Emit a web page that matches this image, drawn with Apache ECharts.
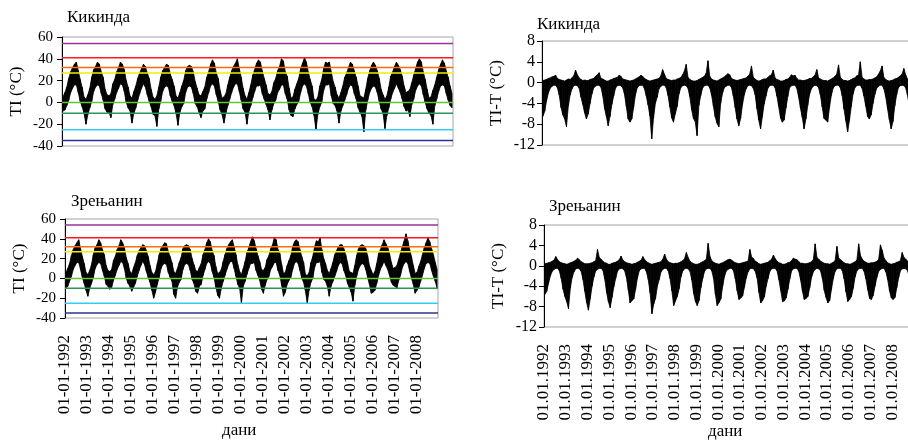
<!DOCTYPE html>
<html><head><meta charset="utf-8">
<script src="https://cdn.jsdelivr.net/npm/echarts@6/dist/echarts.min.js"></script>
<style>html,body{margin:0;padding:0;background:#fff}#c{width:908px;height:441px}</style>
</head><body><div id="c"></div>
<script>
// Years shown (daily series 1992-2008, summarised here as monthly low / high envelopes)
const years = [1992,1993,1994,1995,1996,1997,1998,1999,2000,2001,2002,2003,2004,2005,2006,2007,2008];

// Кикинда, TI (°C): monthly highs and lows, Jan..Dec per year
const kikTIhi = [
  5, 9,14,22,28,32,35,37,29,21,14, 5,
  3, 7,13,23,30,33,37,35,28,23,12, 7,
  6, 8,17,21,28,32,37,35,30,20,14, 6,
  4,10,15,22,27,31,35,33,27,22,12, 5,
  3, 6,14,23,29,32,35,34,26,21,15, 6,
  4, 9,15,20,29,33,34,33,28,19,13, 7,
  6,10,14,23,28,35,39,36,27,22,11, 4,
  5, 8,16,23,29,33,36,40,31,23,13, 6,
  3, 9,16,25,30,36,39,37,29,22,16, 8,
  7,10,18,22,29,33,40,38,28,24,13, 4,
  5,12,17,22,31,36,41,37,28,21,15, 3,
  2, 5,15,21,31,37,36,37,28,19,14, 7,
  4, 9,15,23,27,32,37,35,29,23,15, 6,
  5, 4,12,22,29,34,37,34,29,22,12, 7,
  3, 6,14,24,28,33,37,34,30,24,15, 9,
 10,12,18,25,31,37,40,37,28,21,12, 4,
  5,11,16,23,30,35,39,36,29,23,15, 8
];
const kikTIlo = [
  -8, -7,-3, 2, 9,13,16,16, 9, 1,-4,-10,
 -20,-11,-5, 1,10,14,16,15, 8, 2,-6, -9,
  -9,-14,-2, 3, 9,13,17,16,10, 0,-5, -8,
 -19,-10,-5, 2, 8,13,17,14, 7, 1,-4,-11,
 -12,-22,-6, 1,10,14,15,14, 6, 1,-3,-10,
 -21, -9,-4,-1, 9,14,15,14, 8,-1,-4, -9,
 -14, -8,-6, 3, 9,15,17,15, 7, 1,-7,-11,
 -19,-10,-3, 3, 9,14,17,17,10, 2,-6, -9,
 -20, -8,-3, 4,10,15,15,16, 8, 3,-2, -7,
 -16, -7,-1, 2, 9,12,16,16, 8, 3,-7,-12,
 -13, -6,-2, 1, 9,15,17,15, 8, 0,-4,-12,
 -25,-11,-4, 0,11,16,16,17, 6,-1,-3, -8,
 -19, -8,-3, 2, 7,13,16,15, 8, 3,-5, -9,
 -13,-27,-7, 2, 9,13,15,14, 9, 1,-6,-10,
 -24,-12,-5, 3, 9,13,17,13, 9, 3,-4, -8,
  -7,-13,-2, 3,11,15,17,15, 7, 0,-6,-10,
 -12,-20,-3, 3,10,15,16,15, 8, 2,-3, -5
];

// Зрењанин, TI (°C)
const zreTIhi = [
  6,10,15,23,29,33,36,39,30,22,15, 6,
  4, 8,14,24,31,34,39,36,29,24,13, 8,
  7, 9,18,22,29,33,39,36,31,21,15, 7,
  5,11,16,23,28,31,34,33,28,22,13, 6,
  4, 7,15,24,30,33,36,35,27,22,16, 7,
  5,10,16,21,30,33,34,33,29,20,14, 8,
  7,11,15,24,29,36,40,37,28,23,12, 5,
  6, 9,17,24,30,34,37,39,32,24,14, 7,
  4,10,17,26,31,37,42,38,30,23,17, 9,
  8,11,19,23,30,34,41,39,29,25,14, 5,
  6,13,18,23,32,37,39,37,29,22,16, 4,
  3, 6,16,22,32,38,37,41,29,20,15, 8,
  5,10,16,24,28,32,34,34,30,24,16, 7,
  6, 5,13,23,30,33,34,33,30,23,13, 8,
  4, 7,15,25,29,34,39,35,31,25,16,10,
 11,13,19,26,32,38,45,38,29,22,13, 5,
  6,12,17,24,31,36,41,37,30,24,16, 9
];
const zreTIlo = [
 -10, -8,-3, 2, 9,13,16,16, 9, 1,-5,-12,
 -18,-10,-5, 1,10,14,16,15, 8, 2,-6, -8,
 -11, -9,-2, 3, 9,13,17,16,10, 0,-5, -8,
 -13, -9,-5, 2, 8,13,17,14, 7, 1,-4,-12,
 -20,-14,-6, 1,10,14,15,14, 6, 1,-3,-16,
 -20, -9,-4,-1, 9,14,15,14, 8,-1,-5,-13,
 -15, -8,-6, 3, 9,15,17,15, 7, 1,-9,-17,
 -20,-10,-3, 3, 9,14,17,17,10, 2,-6,-10,
 -25, -8,-3, 4,10,15,15,16, 8, 3,-2,-11,
 -15, -7,-1, 2, 9,12,16,16, 8, 3,-7,-18,
 -14, -6,-2, 1, 9,15,17,15, 8, 0,-4,-13,
 -25,-12,-4, 0,11,16,16,17, 6,-1,-3, -8,
 -18, -8,-3, 2, 7,13,16,15, 8, 3,-5, -9,
 -14,-23,-7, 2, 9,13,15,14, 9, 1,-6,-15,
 -14,-12,-5, 3, 9,13,17,13, 9, 3,-4, -7,
  -8,-10,-2, 3,11,15,17,15, 7, 0,-6,-15,
 -12, -9,-3, 3,10,15,16,15, 8, 2,-3,-10
];

// Кикинда, TI-T (°C)
const kikDiffHi = [
 0.4,0.5,0.6,0.8,0.9,1.1,1.2,1.4,0.8,0.6,0.5,0.4,
 0.3,0.5,0.7,0.6,0.9,1.3,2.4,1.5,0.9,0.6,0.4,0.5,
 0.4,0.4,0.6,0.7,0.8,1.2,1.5,1.9,0.8,0.7,0.5,0.3,
 0.3,0.5,0.6,0.8,0.9,1.0,1.4,1.2,0.7,0.6,0.5,0.4,
 0.3,0.4,0.5,0.7,0.9,1.1,1.4,1.2,0.8,0.6,0.4,0.3,
 0.4,0.5,0.6,0.7,0.8,1.3,2.5,1.6,0.8,0.6,0.5,0.4,
 0.5,0.5,0.7,0.8,1.0,1.5,2.2,3.5,1.0,0.6,0.4,0.3,
 0.3,0.4,0.6,0.8,1.0,1.2,1.8,4.2,1.2,0.7,0.5,0.4,
 0.3,0.5,0.7,0.9,1.1,1.4,1.7,1.5,0.8,0.6,0.5,0.4,
 0.5,0.6,0.7,0.8,0.9,1.2,1.6,3.2,1.0,0.7,0.4,0.3,
 0.4,0.6,0.7,0.7,1.0,1.3,1.5,2.4,0.9,0.6,0.5,0.3,
 0.3,0.4,0.6,0.7,1.0,1.5,1.3,1.4,0.8,0.5,0.5,0.4,
 0.4,0.5,0.6,0.8,0.8,1.1,1.4,2.5,0.9,0.7,0.5,0.4,
 0.4,0.3,0.5,0.7,0.9,1.2,1.6,3.4,1.0,0.6,0.4,0.4,
 0.3,0.4,0.6,0.8,0.9,1.3,1.4,4.0,1.0,0.7,0.5,0.5,
 0.6,0.6,0.7,0.9,1.1,1.6,2.2,3.2,1.0,0.6,0.4,0.3,
 0.4,0.5,0.7,0.8,1.0,1.3,1.6,2.7,1.5,0.7,0.5,0.4
];
const kikDiffLo = [
  -6.5,-5.5,-3.5,-2.0,-1.1,-0.7,-0.5,-0.5,-1.0,-2.4,-4.8,-6.2,
  -7.0,-8.5,-4.5,-2.4,-1.2,-0.6,-0.5,-0.6,-1.1,-2.8,-4.2,-5.8,
  -7.0,-6.0,-4.0,-2.2,-1.0,-0.7,-0.5,-0.5,-0.9,-2.5,-5.0,-6.5,
  -8.3,-6.5,-4.2,-2.6,-1.1,-0.6,-0.5,-0.6,-1.0,-2.3,-4.6,-7.0,
  -7.6,-7.0,-4.8,-2.4,-1.0,-0.6,-0.5,-0.5,-1.2,-2.6,-4.3,-6.4,
 -10.8,-6.8,-4.0,-2.8,-1.2,-0.7,-0.5,-0.5,-1.0,-2.5,-4.7,-6.8,
  -7.6,-6.0,-4.6,-2.2,-1.0,-0.6,-0.5,-0.6,-1.1,-2.7,-5.2,-6.9,
  -7.5,-10.2,-4.4,-2.5,-1.1,-0.6,-0.5,-0.5,-1.0,-2.4,-4.5,-6.6,
  -7.8,-8.5,-4.0,-2.1,-1.0,-0.7,-0.5,-0.5,-1.0,-2.6,-4.8,-7.0,
  -8.3,-6.9,-4.3,-2.4,-1.2,-0.6,-0.5,-0.6,-1.1,-2.3,-5.0,-7.2,
  -8.9,-6.5,-4.1,-2.6,-1.1,-0.6,-0.5,-0.5,-1.0,-2.6,-4.6,-6.8,
  -7.6,-7.2,-4.9,-2.7,-1.0,-0.6,-0.5,-0.5,-1.1,-2.8,-4.9,-6.7,
  -8.9,-7.0,-4.4,-2.3,-1.2,-0.7,-0.5,-0.6,-1.0,-2.4,-4.7,-6.9,
  -7.2,-7.6,-4.8,-2.5,-1.1,-0.6,-0.5,-0.5,-1.0,-2.5,-5.1,-7.3,
  -9.5,-7.3,-4.6,-2.2,-1.0,-0.6,-0.5,-0.5,-1.1,-2.6,-4.5,-6.5,
  -7.0,-6.2,-4.0,-2.3,-1.1,-0.7,-0.5,-0.5,-1.2,-2.7,-5.0,-7.1,
  -8.9,-7.5,-4.5,-2.4,-1.0,-0.6,-0.5,-0.6,-1.0,-2.4,-4.4,-5.8
];

// Зрењанин, TI-T (°C)
const zreDiffHi = [
 0.4,0.5,0.6,0.7,0.9,1.1,1.8,1.2,0.8,0.6,0.5,0.4,
 0.3,0.4,0.6,0.7,0.9,1.1,1.5,1.2,0.8,0.6,0.4,0.4,
 0.4,0.5,0.6,0.8,1.0,3.2,1.6,1.3,0.9,0.6,0.5,0.3,
 0.3,0.5,0.6,0.7,0.9,1.2,1.9,1.1,0.8,0.6,0.5,0.4,
 0.3,0.4,0.5,0.7,0.9,1.1,1.8,1.2,0.8,0.6,0.4,0.3,
 0.4,0.5,0.6,0.7,0.8,1.3,2.3,1.3,0.8,0.6,0.5,0.4,
 0.5,0.5,0.6,0.8,1.0,1.4,2.6,1.6,0.9,0.6,0.4,0.3,
 0.3,0.4,0.6,0.8,1.0,1.3,4.4,1.8,1.0,0.7,0.5,0.4,
 0.3,0.5,0.6,0.8,1.0,1.2,1.3,1.1,0.8,0.6,0.5,0.4,
 0.5,0.6,0.7,0.8,0.9,3.2,1.7,1.4,0.9,0.7,0.4,0.3,
 0.4,0.5,0.6,0.7,1.0,1.3,2.1,1.4,0.9,0.6,0.5,0.3,
 0.3,0.4,0.6,0.7,1.0,1.5,1.3,1.2,0.8,0.5,0.5,0.4,
 0.4,0.5,0.6,0.8,1.2,4.3,1.6,1.3,0.9,0.7,0.5,0.4,
 0.4,0.3,0.5,0.7,1.0,3.8,1.5,1.2,0.9,0.6,0.4,0.4,
 0.3,0.4,0.6,0.8,1.1,4.3,2.0,1.3,0.9,0.7,0.5,0.5,
 0.6,0.6,0.7,0.9,1.2,4.1,3.0,1.5,1.0,0.6,0.4,0.3,
 0.4,0.5,0.7,0.8,1.0,2.6,1.6,1.3,0.9,0.7,0.5,0.4
];
const zreDiffLo = [
 -5.6,-5.0,-3.4,-2.0,-1.1,-0.7,-0.5,-0.5,-1.0,-2.5,-4.6,-6.0,
 -7.0,-8.4,-4.4,-2.3,-1.2,-0.6,-0.5,-0.6,-1.1,-2.7,-5.0,-7.2,
 -8.7,-6.4,-4.0,-2.2,-1.0,-0.7,-0.5,-0.5,-0.9,-2.6,-5.2,-7.0,
 -8.2,-6.2,-4.1,-2.5,-1.1,-0.6,-0.5,-0.6,-1.0,-2.4,-4.8,-7.3,
 -6.8,-6.5,-4.6,-2.4,-1.0,-0.6,-0.5,-0.5,-1.2,-2.7,-5.3,-9.4,
 -7.5,-6.4,-4.0,-2.7,-1.2,-0.7,-0.5,-0.5,-1.0,-2.5,-4.9,-7.8,
 -6.9,-6.0,-4.5,-2.2,-1.0,-0.6,-0.5,-0.6,-1.1,-2.8,-5.4,-7.0,
 -7.8,-6.8,-4.3,-2.5,-1.1,-0.6,-0.5,-0.5,-1.0,-2.5,-5.6,-7.8,
 -7.2,-6.5,-4.0,-2.1,-1.0,-0.7,-0.5,-0.5,-1.0,-2.6,-4.9,-6.6,
 -6.3,-5.9,-4.2,-2.4,-1.2,-0.6,-0.5,-0.6,-1.1,-2.4,-5.2,-7.3,
 -6.8,-6.1,-4.0,-2.5,-1.1,-0.6,-0.5,-0.5,-1.0,-2.7,-4.8,-7.0,
 -6.9,-6.3,-4.6,-2.6,-1.0,-0.6,-0.5,-0.5,-1.1,-2.8,-5.0,-6.6,
 -6.4,-6.0,-4.3,-2.3,-1.2,-0.7,-0.5,-0.6,-1.0,-2.5,-4.8,-6.2,
 -7.3,-6.8,-4.6,-2.5,-1.1,-0.6,-0.5,-0.5,-1.0,-2.6,-5.1,-7.0,
 -6.6,-6.0,-4.4,-2.2,-1.0,-0.6,-0.5,-0.5,-1.1,-2.6,-4.7,-6.4,
 -6.6,-5.8,-4.0,-2.3,-1.1,-0.7,-0.5,-0.5,-1.2,-2.7,-4.9,-6.3,
 -6.6,-6.2,-4.3,-2.4,-1.0,-0.6,-0.5,-0.6,-1.0,-2.4,-4.3,-4.4
];

// Threshold lines on the TI panels (°C)
const thresholds = [54, 41, 32, 27, 0, -10, -25, -35];
const thresholdColors = ['#993399', '#ff1a1a', '#ff6a13', '#f0f000', '#66c23a', '#2e9356', '#33ccf5', '#2e3192'];

const stations = ['Кикинда', 'Зрењанин'];
const yNameTI = 'TI (°C)';
const yNameDiff = 'TI-T (°C)';
const xName = 'дани';

// month-centre position on the year axis
function monthX(i) { return years[0] + (i + 0.5) / 12; }

const FONT = 'Liberation Serif';
const grids = [
  { left: 62, top: 37, width: 391, height: 109 },
  { left: 65, top: 219, width: 373, height: 99 },
  { left: 542, top: 41, width: 370, height: 104 },
  { left: 544, top: 225, width: 370, height: 102 }
].map(g => Object.assign(g, { show: true, borderColor: '#a6a6a6', borderWidth: 1, backgroundColor: 'transparent', outerBoundsMode: 'none', containLabel: false }));

function xAxis(gi, showLabels, fmt) {
  return {
    type: 'value', gridIndex: gi, min: 1992, max: 2009, interval: 1,
    axisLine: { show: false }, axisTick: { show: false }, splitLine: { show: false },
    axisLabel: {
      show: showLabels, rotate: 90, margin: 17, fontSize: 17, fontFamily: FONT, color: '#000',
      showMaxLabel: false, formatter: v => fmt + v
    }
  };
}
function yAxis(gi, min, max, interval, name, fs, margin) {
  return {
    type: 'value', gridIndex: gi, min, max, interval,
    name, nameLocation: 'middle', nameRotate: 90, nameGap: 37,
    nameTextStyle: { fontFamily: FONT, fontSize: 17, color: '#000' },
    axisLine: { show: true, lineStyle: { color: '#000', width: 1 } },
    axisTick: { show: true, length: 5, lineStyle: { color: '#000' } },
    splitLine: { show: false },
    axisLabel: { fontSize: fs, fontFamily: FONT, color: '#000', margin }
  };
}

// Filled band between the monthly low and high envelopes (one quad per month step)
function bandSeries(gi, lo, hi) {
  const data = [];
  for (let i = 0; i < lo.length - 1; i++) {
    data.push([monthX(i), lo[i], hi[i], monthX(i + 1), lo[i + 1], hi[i + 1]]);
  }
  return {
    type: 'custom', coordinateSystem: 'cartesian2d', xAxisIndex: gi, yAxisIndex: gi,
    data, encode: { x: [0, 3], y: [1, 2, 4, 5] }, animation: false, clip: true, z: 2,
    renderItem: (params, api) => {
      const a = api.coord([api.value(0), api.value(1)]);
      const b = api.coord([api.value(0), api.value(2)]);
      const c = api.coord([api.value(3), api.value(5)]);
      const d = api.coord([api.value(3), api.value(4)]);
      return { type: 'polygon', shape: { points: [a, b, c, d] }, style: { fill: '#000', stroke: '#000', lineWidth: 0.8 } };
    }
  };
}

// Horizontal threshold lines across the full year range
function thresholdSeries(gi) {
  return thresholds.map((v, k) => ({
    type: 'line', xAxisIndex: gi, yAxisIndex: gi, data: [[1992, v], [2009, v]],
    showSymbol: false, symbol: 'none', animation: false, silent: true, z: 4,
    lineStyle: { color: thresholdColors[k], width: 1.5 }
  }));
}

const titleStyle = { fontFamily: FONT, fontSize: 17, fontWeight: 'normal', color: '#000' };
const chart = echarts.init(document.getElementById('c'), null, { renderer: 'canvas' });
chart.setOption({
  animation: false,
  backgroundColor: '#fff',
  title: [
    { text: stations[0], left: 67, top: 9, textStyle: titleStyle },
    { text: stations[1], left: 71, top: 193, textStyle: titleStyle },
    { text: stations[0], left: 537, top: 16, textStyle: titleStyle },
    { text: stations[1], left: 549, top: 198, textStyle: titleStyle },
    { text: xName, left: 222, top: 422, textStyle: titleStyle },
    { text: xName, left: 708, top: 423, textStyle: titleStyle }
  ].map(t => Object.assign(t, { padding: 0 })),
  grid: grids,
  xAxis: [xAxis(0, false, ''), xAxis(1, true, '01-01-'), xAxis(2, false, ''), xAxis(3, true, '01.01.')],
  yAxis: [
    yAxis(0, -40, 60, 20, yNameTI, 15, 9),
    yAxis(1, -40, 60, 20, yNameTI, 15, 9),
    yAxis(2, -12, 8, 4, yNameDiff, 16, 7),
    yAxis(3, -12, 8, 4, yNameDiff, 16, 7)
  ],
  series: [].concat(
    [bandSeries(0, kikTIlo, kikTIhi)], thresholdSeries(0),
    [bandSeries(1, zreTIlo, zreTIhi)], thresholdSeries(1),
    [bandSeries(2, kikDiffLo, kikDiffHi)],
    [bandSeries(3, zreDiffLo, zreDiffHi)]
  )
});
</script></body></html>
